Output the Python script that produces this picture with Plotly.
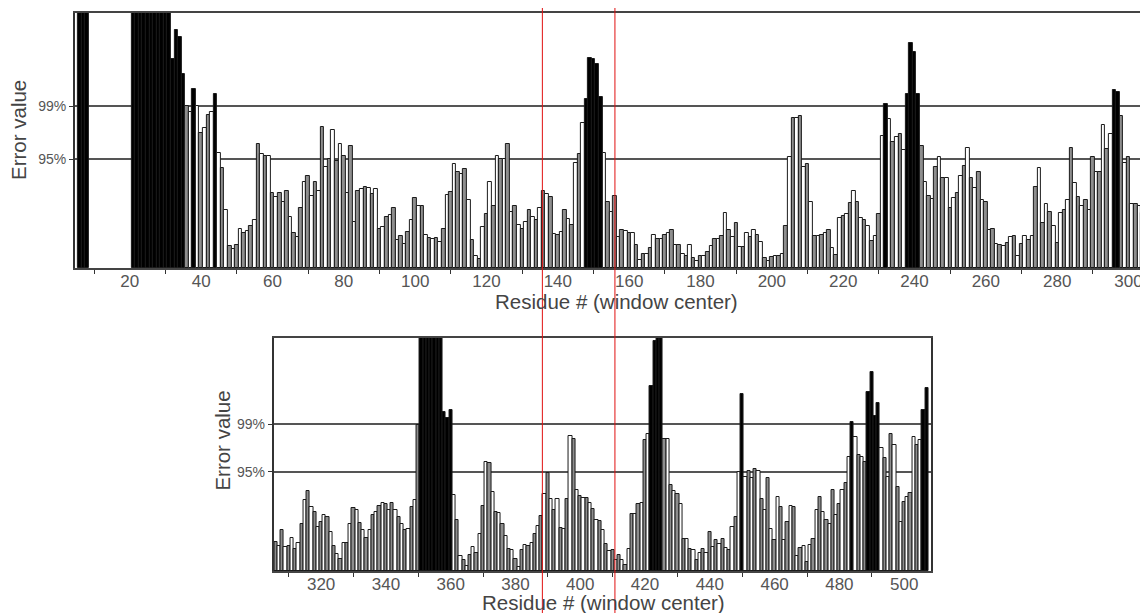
import plotly.graph_objects as go

# ---------------- data ----------------
# Error value per residue window, in % of the plotted height (values > 100 are clipped at the frame)
top_first_residue = 6
top_values = (
    [110, 110, 110]
    + [None] * 12
    + [110] * 11
    + [82.0, 93.4, 90.5, 76.2, 63.4, 61.2, 70.3, 63.4, 53.1, 55.0, 59.9, 61.0, 68.4, 45.2, 39.3, 22.8,
       8.5, 7.4, 9.1, 15.2, 13.7, 14.5, 16.3, 18.9]
    + [48.6, 44.7, 43.9, 44.0, 29.6, 28.0, 29.6, 26.0, 30.3, 19.9, 13.7, 12.1, 23.4, 33.6, 36.2, 28.4,
       33.9, 30.3, 55.3, 39.7, 42.7, 54.3, 42.0, 48.6, 44.0, 29.6, 47.9, 18.2, 30.3, 30.9, 31.9, 31.3,
       29.0, 30.9, 15.2, 15.9, 19.9, 20.8, 23.4, 10.8, 12.4, 9.5, 14.3, 18.9, 27.6, 24.3, 24.3, 13.0, 11.7]
    + [11.5, 11.7, 10.2, 15.2, 28.6, 29.7, 40.8, 37.8, 36.8, 38.8, 26.7, 11.1, 4.6, 3.6, 16.0, 21.1,
       33.9, 24.5, 44.0, 42.7, 42.7, 48.6, 21.9, 24.5, 16.7, 15.4, 18.0, 22.8, 19.9, 18.9, 23.4, 30.3,
       29.0, 28.0, 13.4, 13.0, 14.3, 22.8, 19.3, 16.7, 41.0, 44.7, 57.0, 66.1, 82.4, 82.0, 80.0, 67.0,
       45.2, 25.8, 22.0, 28.4]
    + [12.1, 15.0, 14.6, 13.7, 13.7, 9.1, 3.3, 5.6, 5.6, 7.8, 13.0, 11.3, 11.3, 13.0, 13.7, 15.0,
       9.1, 9.1, 5.6, 4.6, 9.1, 3.9, 2.6, 4.6, 4.6, 6.3, 8.7, 11.5, 11.5, 12.4, 21.7, 15.0, 12.1, 17.8,
       8.2, 8.2, 13.7, 12.1, 15.0, 13.0, 10.2, 3.9, 2.6, 4.3, 4.6, 4.6, 5.6, 16.5]
    + [43.6, 58.9, 58.9, 59.5, 39.7, 40.8, 25.8, 12.6, 12.6, 13.0, 13.7, 15.0, 7.8, 5.2, 19.5, 20.4,
       21.2, 25.4, 30.3, 25.8, 19.5, 18.9, 16.3, 10.4, 12.6, 21.2, 51.7, 64.5, 58.3, 49.5, 51.2, 52.5,
       46.2, 68.4, 88.2, 84.6, 68.4, 47.9, 33.9, 28.4, 27.0, 39.5, 43.6, 35.4, 35.4, 23.4, 27.3, 29.3,
       36.1, 40.0]
    + [47.1, 35.4, 31.3, 37.5, 26.7, 25.8, 15.0, 15.2, 9.5, 9.1, 8.5, 9.8, 12.0, 12.4, 4.6, 9.5, 12.4,
       10.8, 12.4, 31.9, 39.3, 17.8, 25.1, 21.9, 16.5, 10.0, 21.7, 22.8, 26.7, 46.9, 33.2, 28.0, 24.5,
       26.7, 22.8, 43.6, 37.8, 37.8, 56.0, 46.5, 52.5, 69.7, 69.2, 59.5, 41.0, 43.4, 25.1, 25.1, 24.3, 21.5]
)
top_significant = [6, 7, 8] + list(range(21, 36)) + [38, 44, 148, 149, 150, 151, 152,
                                                      232, 238, 239, 240, 241, 296, 297]

bottom_first_residue = 306
bottom_values = (
    [12.4, 10.6, 17.4, 10.3, 10.6, 14.3, 9.6, 12.0, 20.3, 30.3, 34.3, 27.4, 25.3, 18.9, 21.0, 24.1,
     23.1, 16.7, 10.6, 7.1, 5.3, 12.1, 12.1, 20.3, 27.0, 26.0, 20.6, 17.4, 14.3, 17.4, 23.9, 25.3,
     27.7, 29.3, 28.6, 26.0, 29.1, 26.0, 23.1, 20.3, 17.4, 18.1, 27.4, 30.3]
    + [62.7] + [110] * 7 + [68.4, 65.7, 68.9]
    + [32.7, 22.0, 6.3, 4.6, 2.1, 6.7, 10.3, 7.7, 15.7, 28.1, 46.7, 46.3, 34.1, 25.3, 25.0, 20.3,
       14.9, 9.3, 8.9, 5.0, 1.7, 8.9, 11.0, 10.6, 12.1, 15.7, 19.3, 23.6, 32.9, 42.1, 30.7, 26.0,
       30.7, 18.4, 17.9, 31.0, 58.1, 56.7, 34.6, 32.4, 31.4, 31.4, 29.1, 26.4, 22.0, 21.4, 17.4, 11.7,
       8.4, 8.9, 4.6, 6.7, 4.9, 2.4, 9.3, 24.6, 24.6, 28.9, 29.0, 56.4, 58.6]
    + [79.6, 98.9, 110, 110]
    + [56.7, 56.7, 36.7, 34.3, 32.9, 28.9, 13.9, 13.6, 9.3, 8.9, 4.6, 7.7, 9.3, 7.7, 16.7, 10.3,
       13.1, 11.7, 13.6, 10.0, 8.9, 18.9, 23.1, 42.4]
    + [76.0]
    + [40.3, 43.1, 40.0, 43.9, 43.1, 31.0, 26.0, 39.9, 17.9, 13.1, 31.7, 27.4, 13.1, 21.0, 27.7, 27.4,
       6.3, 9.9, 10.7, 3.9, 11.0, 13.9, 26.3, 31.7, 25.3, 22.0, 20.3, 34.6, 24.1, 28.9, 34.9, 37.9, 48.9]
    + [63.9, 57.7, 49.9, 48.9, 46.7, 76.7, 85.3, 66.7, 72.0, 52.7, 48.4, 40.3, 58.9, 53.9, 36.0, 21.0,
       29.6, 31.7, 33.4, 57.4, 53.9, 56.3, 68.9, 78.4]
)
bottom_significant = list(range(351, 361)) + [422, 423, 424, 425, 450, 484, 489, 490, 491, 492, 506, 507]

top_thresholds = [42.7, 63.4]
bottom_thresholds = [42.6, 62.9]
threshold_labels = ["95%", "99%"]
top_tick_labels = list(range(20, 301, 20))
bottom_tick_labels = list(range(320, 501, 20))
top_minor_ticks = list(range(10, 301, 20))
bottom_minor_ticks = list(range(310, 501, 20))

# ---------------- figure ----------------
# the page body keeps the browser's default 8px margin, so the figure is laid out
# in window pixels minus that offset
OFF = 8
WIN_W, WIN_H = 1148, 613
W, H = WIN_W - OFF, WIN_H - OFF
FONT = "Liberation Sans, Arial, sans-serif"


def residues(first, vals):
    return list(range(first, first + len(vals)))


def fills(res, sig):
    s = set(sig)
    out = []
    for r in res:
        if r in s:
            out.append("#000000")
        elif r % 2 == 0:
            out.append("#8e8e8e")
        else:
            out.append("#ffffff")
    return out


def fx(px):
    return (px - OFF) / W


def fy(py):
    return 1 - (py - OFF) / H


top_res = residues(top_first_residue, top_values)
bot_res = residues(bottom_first_residue, bottom_values)

fig = go.Figure()
fig.add_trace(go.Bar(x=top_res, y=top_values, width=1, xaxis="x", yaxis="y",
                     marker=dict(color=fills(top_res, top_significant),
                                 line=dict(color="#1a1a1a", width=1)),
                     showlegend=False, hoverinfo="x+y"))
fig.add_trace(go.Bar(x=bot_res, y=bottom_values, width=1, xaxis="x2", yaxis="y2",
                     marker=dict(color=fills(bot_res, bottom_significant),
                                 line=dict(color="#1a1a1a", width=1)),
                     showlegend=False, hoverinfo="x+y"))

axis_common = dict(showline=True, linecolor="#444444", linewidth=1.5, mirror=True,
                   zeroline=False, ticklabelstandoff=-3,
                   tickfont=dict(family=FONT, size=17, color="#555555"))
yaxis_common = dict(range=[0, 100], tickmode="array", ticktext=threshold_labels,
                    ticks="outside", ticklen=4, tickcolor="#333333",
                    showgrid=True, gridcolor="#555555", gridwidth=1.5,
                    showline=True, linecolor="#333333", linewidth=1.5, mirror=True, zeroline=False,
                    tickfont=dict(family=FONT, size=14, color="#555555"))

fig.update_layout(
    width=W, height=H,
    margin=dict(l=0, r=0, t=0, b=0),
    paper_bgcolor="white", plot_bgcolor="white",
    bargap=0,
    font=dict(family=FONT, color="#444444"),
    xaxis=dict(domain=[fx(75), 1.0], anchor="y", range=[4.6, 304.9],
               tickmode="array", tickvals=top_tick_labels, ticks="", showgrid=False,
               minor=dict(tickmode="array", tickvals=top_minor_ticks, ticks="outside",
                          ticklen=4, tickcolor="#333333", showgrid=False),
               **axis_common),
    yaxis=dict(domain=[fy(268), fy(13)], anchor="x", tickvals=top_thresholds, **yaxis_common),
    xaxis2=dict(domain=[fx(274), fx(933)], anchor="y2", range=[305.3, 508.4],
                tickmode="array", tickvals=bottom_tick_labels, ticks="", showgrid=False,
                minor=dict(tickmode="array", tickvals=bottom_minor_ticks, ticks="outside",
                           ticklen=4, tickcolor="#333333", showgrid=False),
                **axis_common),
    yaxis2=dict(domain=[fy(571), fy(338)], anchor="x2", tickvals=bottom_thresholds, **yaxis_common),
)

title_font = dict(family=FONT, size=20.5, color="#444444")
fig.add_annotation(x=fx(618), y=fy(301), xref="paper", yref="paper", text="Residue # (window center)",
                   showarrow=False, font=title_font, xanchor="center", yanchor="middle")
fig.add_annotation(x=fx(605), y=fy(602), xref="paper", yref="paper", text="Residue # (window center)",
                   showarrow=False, font=title_font, xanchor="center", yanchor="middle")
fig.add_annotation(x=fx(18), y=fy(130), xref="paper", yref="paper", text="Error value",
                   showarrow=False, font=title_font, textangle=-90, xanchor="center", yanchor="middle")
fig.add_annotation(x=fx(222), y=fy(441), xref="paper", yref="paper", text="Error value",
                   showarrow=False, font=title_font, textangle=-90, xanchor="center", yanchor="middle")

# thin red guide lines crossing the whole picture
for gx in (543.3, 616):
    fig.add_shape(type="line", xref="paper", yref="paper", x0=fx(gx), x1=fx(gx), y0=0, y1=1,
                  line=dict(color="#e01010", width=1), layer="above")

fig.write_html("out.html")
